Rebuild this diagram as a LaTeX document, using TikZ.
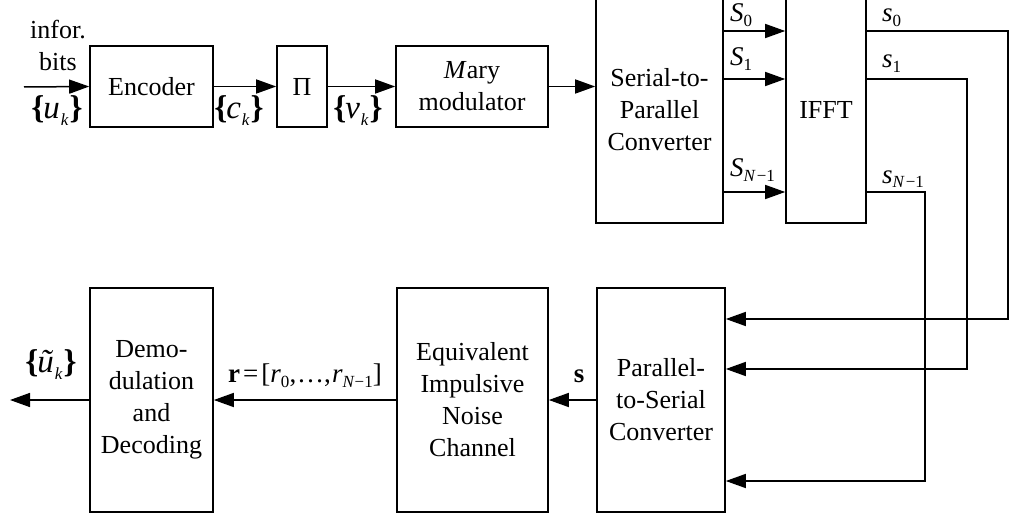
\documentclass[tikz,border=0pt]{standalone}
\usepackage{fontspec}
\setmainfont{Liberation Serif}
\usetikzlibrary{arrows.meta,calc}
% lowered small subscript
\newcommand\lowsub[1]{\raisebox{-5pt}{\fontsize{17}{17}\selectfont #1}}
% a braced sequence {x_k}
\newcommand\seqof[2]{{\fontsize{33}{33}\selectfont\textbf{\{}\kern-1pt\textit{#1}\kern1pt\raisebox{-7pt}{\fontsize{17}{17}\selectfont\textit{#2}}\kern1pt\textbf{\}}}}
\begin{document}
\begin{tikzpicture}[x=1pt,y=-1pt,
  font=\fontsize{26}{32}\selectfont,
  blk/.style={draw, line width=1.6pt, align=center, inner sep=0pt},
  arr/.style={line width=1.5pt, -{Triangle[length=20pt,width=14pt]}},
  lab/.style={inner sep=0pt},
  mlab/.style={inner sep=0pt, font=\fontsize{27}{27}\selectfont}]
\useasboundingbox (0,0) rectangle (1010,516);

% transmitter chain
\node[blk, minimum width=123pt, minimum height=81pt] (enc) at (151.5,86.5) {Encoder};
\node[blk, minimum width=50pt, minimum height=81pt] (pi) at (302,86.5) {Π};
\node[blk, minimum width=152pt, minimum height=81pt] (mod) at (472,86.5) {\textit{M}ary\\modulator};
\node[blk, minimum width=127pt, minimum height=227pt] (sp) at (659.5,109.5) {Serial-to-\\Parallel\\Converter};
\node[blk, minimum width=80pt, minimum height=227pt] (ifft) at (826,109.5) {IFFT};

% receiver chain
\node[blk, minimum width=128pt, minimum height=224pt] (ps) at (661,400) {Parallel-\\to-Serial\\Converter};
\node[blk, minimum width=151pt, minimum height=224pt] (ch) at (472.5,400) {Equivalent\\Impulsive\\Noise\\Channel};
\node[blk, minimum width=123pt, minimum height=224pt] (dem) at (151.5,400) {Demo-\\dulation\\and\\Decoding};

% input / output ends
\coordinate (in) at (24,87);
\coordinate (out) at (10,400);

\draw[arr] (in) -- (enc.west);
\draw[arr] (enc.east) -- (pi.west);
\draw[arr] (pi.east) -- (mod.west);
\draw[arr] (mod.east) -- (sp.west |- mod.east);

% parallel branches S/P -> IFFT
\foreach \yy in {31,79,192}
  \draw[arr] (sp.east |- 0,\yy) -- (ifft.west |- 0,\yy);

% IFFT outputs routed back to the P/S converter
\coordinate (c0a) at (1008,31);  \coordinate (c0b) at (1008,319);
\coordinate (c1a) at (967,79);   \coordinate (c1b) at (967,369);
\coordinate (c2a) at (925,192);  \coordinate (c2b) at (925,481);
\draw[arr] (ifft.east |- c0a) -- (c0a) -- (c0b) -- (ps.east |- c0b);
\draw[arr] (ifft.east |- c1a) -- (c1a) -- (c1b) -- (ps.east |- c1b);
\draw[arr] (ifft.east |- c2a) -- (c2a) -- (c2b) -- (ps.east |- c2b);

\draw[arr] (ps.west) -- (ch.east);
\draw[arr] (ch.west) -- (dem.east);
\draw[arr] (dem.west) -- (out);

% labels
\node[lab] (l1) at (58,30) {infor.};
\node[lab] (l2) at (58,62) {bits};
\node[lab, anchor=base] (u) at (57,119) {\seqof{u}{k}};
\node[lab, anchor=base] (c) at (239,119) {\seqof{c}{k}};
\node[lab, anchor=base] (v) at (358,119) {\seqof{v}{k}};

\node[mlab, anchor=base west] (S0) at (730,22) {\textit{S}\lowsub{0}};
\node[mlab, anchor=base west] (S1) at (730,66) {\textit{S}\lowsub{1}};
\node[mlab, anchor=base west] (S2) at (730,177) {\textit{S}\lowsub{\textit{N}\kern1pt−1}};

\node[mlab, anchor=base west] (s0) at (882,22) {\textit{s}\lowsub{0}};
\node[mlab, anchor=base west] (s1) at (882,68) {\textit{s}\lowsub{1}};
\node[mlab, anchor=base west] (s2) at (882,183) {\textit{s}\lowsub{\textit{N}\kern1pt−1}};

\node[mlab, anchor=base] (sl) at (579,382) {\textbf{s}};
\node[mlab, anchor=base] (rl) at (305,382) {\textbf{r}\kern3pt=\kern3pt[\textit{r}\lowsub{0},\kern1pt…,\kern1pt\textit{r}\lowsub{\textit{N}−1}]};
\node[lab, anchor=base] (ul) at (51,372) {\seqof{ũ}{k}};
\end{tikzpicture}
\end{document}
